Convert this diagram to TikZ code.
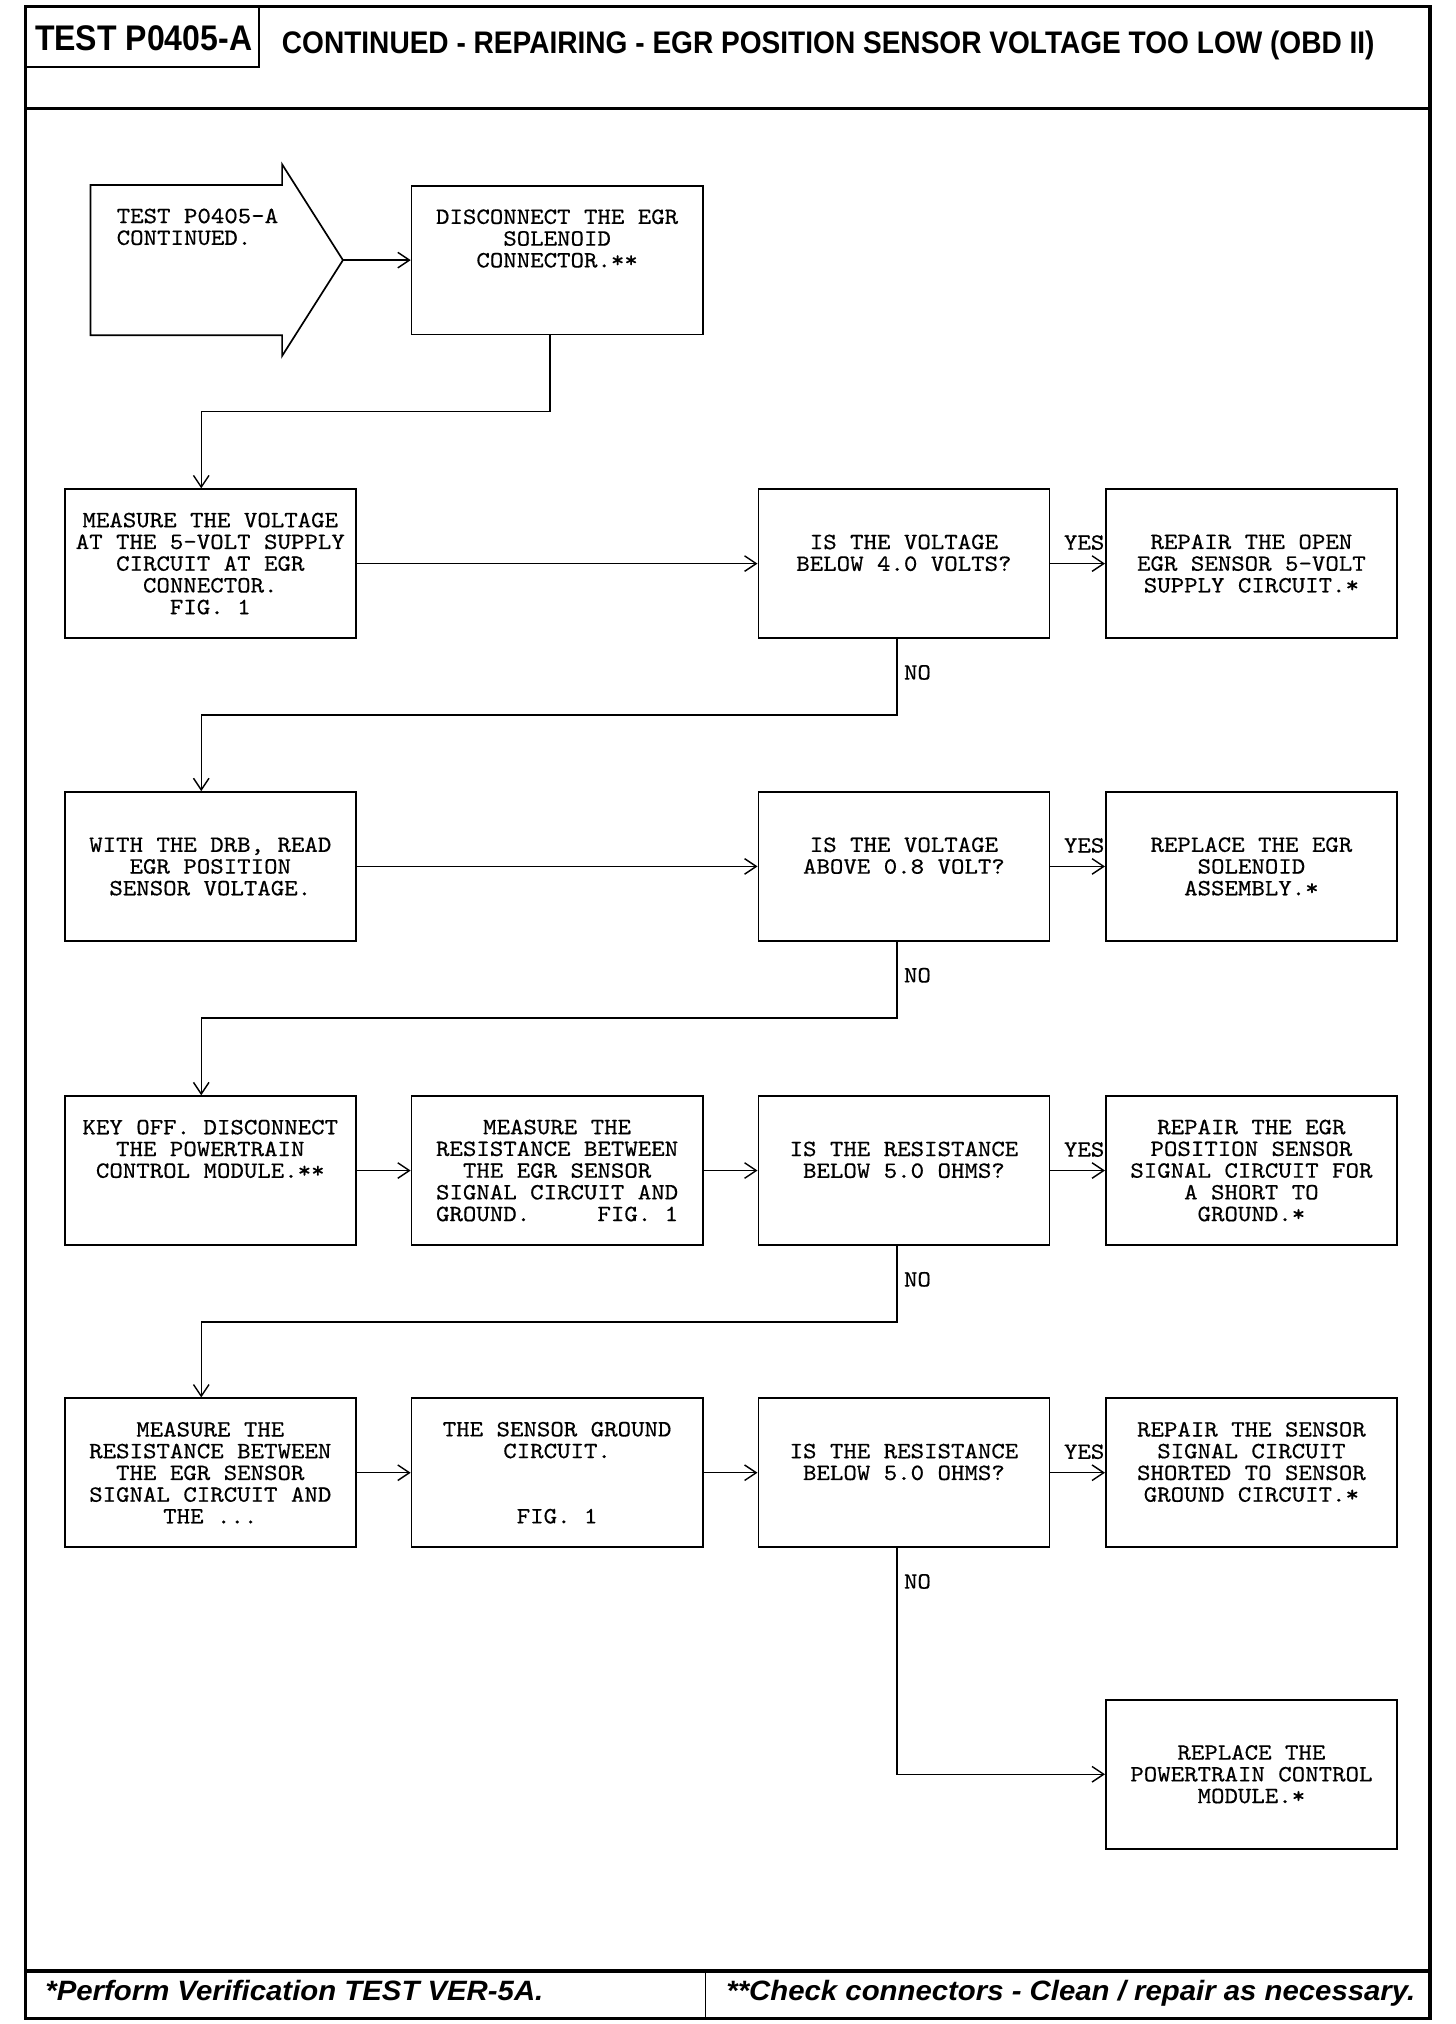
\documentclass[tikz,border=0pt]{standalone}
\usepackage{fontspec}
\newfontfamily\headfont{Liberation Sans}[FakeStretch=0.9]
\newfontfamily\footfont{Liberation Sans}[FakeStretch=1.05]
\newfontfamily\boxfont{lmmono10-regular.otf}[FakeStretch=1.1, FakeBold=0.5]
\usetikzlibrary{arrows.meta}

\tikzset{
  box/.style = {draw, line width=1.3pt, minimum width=225pt, minimum height=115pt,
                inner sep=0pt, align=center, font=\boxfont\fontsize{18}{16.8}\selectfont},
  flow/.style = {line width=1.1pt, -{Straight Barb[length=9pt,width=12pt]}},
  yeslbl/.style = {above=10pt, xshift=5pt, inner sep=0pt, font=\boxfont\fontsize{18}{16.8}\selectfont},
  nolbl/.style = {right=5pt, inner sep=0pt, font=\boxfont\fontsize{18}{16.8}\selectfont},
}

\begin{document}
\begin{tikzpicture}[x=1pt, y=1pt]
	\useasboundingbox (0,0) rectangle (1125,-1564);
	% frame, header and footer
	\draw[line width=2.4pt] (20,-5) rectangle (1105,-1560);
	\draw[line width=2.4pt] (20,-84) -- (1105,-84);
	\draw[line width=2.4pt] (20,-1523) -- (1105,-1523);
	\draw[line width=1.2pt] (545,-1523) -- (545,-1560);
	\draw[line width=1.8pt] (20,-52) -| (200,-5);
	\node[font=\headfont\bfseries\fontsize{27.5}{27.5}\selectfont] (test) at (111,-29.5) {TEST P0405-A};
	\node[anchor=base, font=\headfont\bfseries\fontsize{24.1}{24.1}\selectfont] (title) at (640,-41)
		{CONTINUED - REPAIRING - EGR POSITION SENSOR VOLTAGE TOO LOW (OBD II)};
	\node[anchor=base, font=\footfont\bfseries\itshape\fontsize{21.6}{21.6}\selectfont] (verify) at (227.5,-1546)
		{*Perform Verification TEST VER-5A.};
	\node[anchor=base, font=\footfont\bfseries\itshape\fontsize{21.6}{21.6}\selectfont] (check) at (827.5,-1546)
		{**Check connectors - Clean / repair as necessary.};

	% start arrow
	\draw[line width=1.3pt] (70,-143) -- (218,-143) -- (218,-127) -- (265,-201)
		-- (218,-275) -- (218,-259) -- (70,-259) -- cycle;
	\coordinate (tip) at (265,-201);
	\node[anchor=north west, align=left, inner sep=0pt, font=\boxfont\fontsize{18}{16.8}\selectfont] (start) at (90,-161)
		{TEST P0405-A\\CONTINUED.};

	% steps
	\node[box] (disc) at (430.5,-201) {DISCONNECT THE EGR\\SOLENOID\\CONNECTOR.**\\ \mbox{}\\ \mbox{}};
	\node[box] (volt) at (162.5,-435.5) {MEASURE THE VOLTAGE\\AT THE 5-VOLT SUPPLY\\CIRCUIT AT EGR\\CONNECTOR.\\FIG. 1};
	\node[box] (q1) at (698.5,-435.5) {IS THE VOLTAGE\\BELOW 4.0 VOLTS?\\ \mbox{}};
	\node[box] (rep1) at (967,-435.5) {REPAIR THE OPEN\\EGR SENSOR 5-VOLT\\SUPPLY CIRCUIT.*};
	\node[box] (drb) at (162.5,-669.5) {WITH THE DRB, READ\\EGR POSITION\\SENSOR VOLTAGE.};
	\node[box] (q2) at (698.5,-669.5) {IS THE VOLTAGE\\ABOVE 0.8 VOLT?\\ \mbox{}};
	\node[box] (rep2) at (967,-669.5) {REPLACE THE EGR\\SOLENOID\\ASSEMBLY.*};
	\node[box] (key) at (162.5,-904.5) {KEY OFF. DISCONNECT\\THE POWERTRAIN\\CONTROL MODULE.**\\ \mbox{}\\ \mbox{}};
	\node[box] (res1) at (430.5,-904.5) {MEASURE THE\\RESISTANCE BETWEEN\\THE EGR SENSOR\\SIGNAL CIRCUIT AND\\GROUND.~~~~~FIG. 1};
	\node[box] (q3) at (698.5,-904.5) {IS THE RESISTANCE\\BELOW 5.0 OHMS?\\ \mbox{}};
	\node[box] (rep3) at (967,-904.5) {REPAIR THE EGR\\POSITION SENSOR\\SIGNAL CIRCUIT FOR\\A SHORT TO\\GROUND.*};
	\node[box] (res2) at (162.5,-1138) {MEASURE THE\\RESISTANCE BETWEEN\\THE EGR SENSOR\\SIGNAL CIRCUIT AND\\THE ...};
	\node[box] (gnd) at (430.5,-1138) {THE SENSOR GROUND\\CIRCUIT.\\[33.6pt]FIG. 1};
	\node[box] (q4) at (698.5,-1138) {IS THE RESISTANCE\\BELOW 5.0 OHMS?\\ \mbox{}};
	\node[box] (rep4) at (967,-1138) {REPAIR THE SENSOR\\SIGNAL CIRCUIT\\SHORTED TO SENSOR\\GROUND CIRCUIT.*\\ \mbox{}};
	\node[box] (pcm) at (967,-1371) {REPLACE THE\\POWERTRAIN CONTROL\\MODULE.*};

	% connectors
	\draw[flow] (tip) -- (disc.west);
	\draw[flow] ([xshift=-5.5pt]disc.south) -- ++(0,-59) -| ([xshift=-7pt]volt.north);
	\draw[flow] (volt.east) -- (q1.west);
	\draw[flow] (q1.east) -- node[yeslbl] (y1) {YES} (rep1.west);
	\draw[flow] ([xshift=-5.5pt]q1.south) -- node[nolbl, pos=0.44] (n1) {NO} ++(0,-59) -| ([xshift=-7pt]drb.north);
	\draw[flow] (drb.east) -- (q2.west);
	\draw[flow] (q2.east) -- node[yeslbl] (y2) {YES} (rep2.west);
	\draw[flow] ([xshift=-5.5pt]q2.south) -- node[nolbl, pos=0.44] (n2) {NO} ++(0,-59) -| ([xshift=-7pt]key.north);
	\draw[flow] (key.east) -- (res1.west);
	\draw[flow] (res1.east) -- (q3.west);
	\draw[flow] (q3.east) -- node[yeslbl] (y3) {YES} (rep3.west);
	\draw[flow] ([xshift=-5.5pt]q3.south) -- node[nolbl, pos=0.44] (n3) {NO} ++(0,-59) -| ([xshift=-7pt]res2.north);
	\draw[flow] (res2.east) -- (gnd.west);
	\draw[flow] (gnd.east) -- (q4.west);
	\draw[flow] (q4.east) -- node[yeslbl] (y4) {YES} (rep4.west);
	\draw[flow] ([xshift=-5.5pt]q4.south) |- node[nolbl, pos=0.074] (n4) {NO} (pcm.west);
\end{tikzpicture}
\end{document}
